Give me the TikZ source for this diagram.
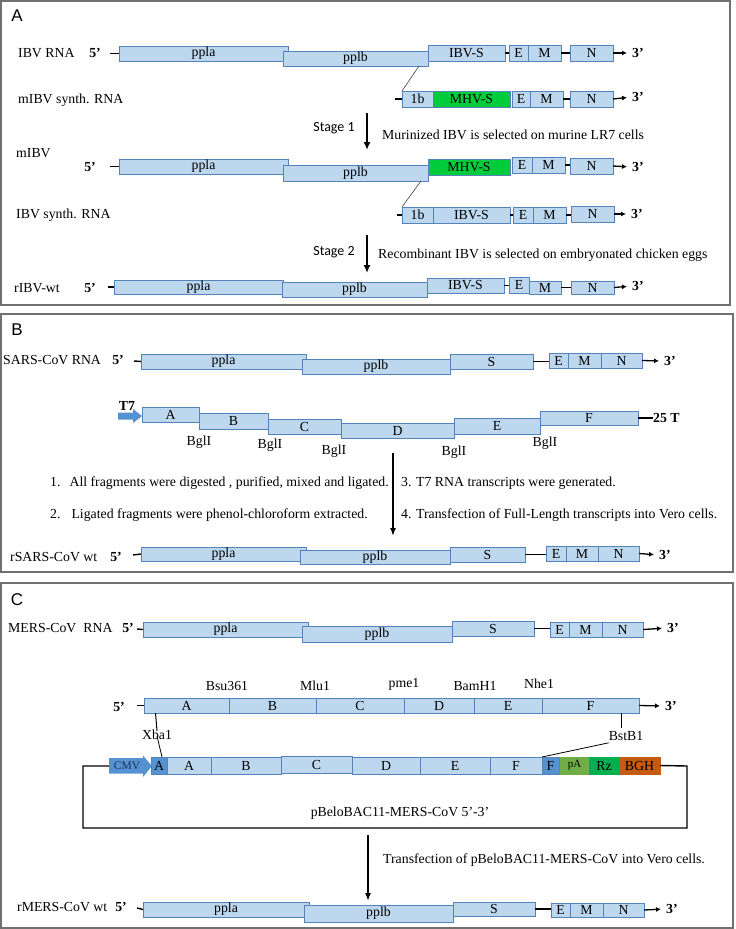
\documentclass[tikz,border=0pt]{standalone}
\usepackage{fontspec}
\setmainfont{Liberation Serif}
\newfontfamily\panelfont{Liberation Sans}
\newfontfamily\stagefont{Carlito}
\usetikzlibrary{arrows.meta,calc}
\definecolor{boxfill}{RGB}{189,215,238}
\definecolor{boxline}{RGB}{84,130,185}
\definecolor{mhv}{RGB}{0,204,60}
\definecolor{midblue}{RGB}{84,146,210}
\definecolor{pagreen}{RGB}{112,173,71}
\definecolor{rzgreen}{RGB}{0,176,80}
\definecolor{bghc}{RGB}{197,90,17}
\definecolor{framec}{RGB}{112,112,112}
\definecolor{navy}{RGB}{30,50,90}
\newcommand\gb[7][]{%
 \pgfmathsetmacro\gbw{#4-#3}\pgfmathsetmacro\gbh{#6-#5}%
 \pgfmathsetmacro\gbx{(#3+#4)/2}\pgfmathsetmacro\gby{(#5+#6)/2}%
 \node[gbox,minimum width=\gbw pt,minimum height=\gbh pt,#1] (#2) at (\gbx,\gby) {#7};}
\tikzset{
 txt/.style={font=\fontsize{13.8}{15}\selectfont},
 gbox/.style={draw=boxline, fill=boxfill, line width=0.8pt, inner sep=0pt, outer sep=0pt, txt},
 lbl/.style={inner sep=0pt, anchor=west, txt},
 endlbl/.style={inner sep=0pt, font=\bfseries\fontsize{13.8}{15}\selectfont},
 seg/.style={line width=1.4pt},
 tip/.style={line width=1.3pt, shorten >=5pt, -{Latex[length=5pt,width=5pt]}},
 bigarrow/.style={line width=1.8pt, -{Latex[length=8pt,width=7pt]}},
 panel/.style={draw=framec, line width=1.3pt},
 plet/.style={font=\panelfont\fontsize{17}{19}\selectfont, inner sep=0pt},
 stg/.style={font=\stagefont\fontsize{14}{16}\selectfont, inner sep=0pt},
 thin/.style={line width=0.6pt, draw=black!75},
}
\begin{document}
\begin{tikzpicture}[x=1pt,y=-1pt]
\useasboundingbox (0,0) rectangle (736,929);
\draw[panel] (1,1) rectangle (730,305);
\draw[panel] (1,314) rectangle (733,572);
\draw[panel] (1,583) rectangle (733,928);
% ================= Panel A
\node[plet] (LA) at (17,16) {A};
% row 1
\node[lbl] (a1l) at (18,53) {IBV RNA};
\node[endlbl] (a1f) at (95,53) {5'};
\coordinate (a1d) at (110,53.5);
\gb{a1pa}{119}{288}{46}{61}{ppla}
\gb{a1pb}{283}{428}{51}{66}{pplb}
\gb{a1s}{428}{505}{45}{61}{IBV-S}
\gb{a1e}{509}{528}{45}{61}{E}
\gb{a1m}{528}{561}{45}{61}{M}
\gb{a1n}{570}{613}{45}{61}{N}
\node[endlbl,anchor=west] (a1t) at (632,53) {3'};
\draw[seg] (a1d) -- (a1pa.west);
\draw[seg] (a1s.east) -- (a1s.east -| a1e.west);
\draw[seg] (a1m.east) -- (a1m.east -| a1n.west);
\draw[tip] (a1n.east) -- (a1t.west);
% row 2
\node[lbl] (a2l) at (18,100) {mIBV synth. RNA};
\coordinate (a2d) at (395,99);
\gb{a2b}{402}{433}{91}{107}{1b}
\gb[fill=mhv]{a2s}{433}{510}{91}{107}{MHV-S}
\gb{a2e}{512}{530}{91}{107}{E}
\gb{a2m}{530}{563}{91}{107}{M}
\gb{a2n}{570}{613}{91}{107}{N}
\node[endlbl,anchor=west] (a2t) at (632,97) {3'};
\draw[seg] (a2d) -- (a2b.west);
\draw[seg] (a2m.east) -- (a2m.east -| a2n.west);
\draw[tip] (a2n.east) -- (a2t.west);
\draw[thin] ([xshift=-9pt]a1pb.south east) -- (a2b.north west);
% stage 1
\coordinate (s1a) at (367,113);
\coordinate (s1b) at (367,150);
\draw[bigarrow] (s1a) -- (s1b);
\node[stg] (s1l) at (334,128) {Stage 1};
\node[lbl] (s1t) at (382,135) {Murinized IBV is selected on murine LR7 cells};
% row 3
\node[lbl] (a3l) at (16,153) {mIBV};
\node[endlbl] (a3f) at (90,167) {5'};
\coordinate (a3d) at (110,166.5);
\gb{a3pa}{119}{288}{159}{174}{ppla}
\gb{a3pb}{283}{428}{165}{181}{pplb}
\gb[fill=mhv]{a3s}{428}{510}{159}{175}{MHV-S}
\gb{a3e}{512}{532}{157}{173}{E}
\gb{a3m}{532}{565}{157}{173}{M}
\gb{a3n}{570}{613}{158}{174}{N}
\node[endlbl,anchor=west] (a3t) at (632,167) {3'};
\draw[seg] (a3d) -- (a3pa.west);
\draw[seg] (a3m.east) -- (a3m.east -| a3n.west);
\draw[tip] (a3n.east) -- (a3t.west);
% row 4
\node[lbl] (a4l) at (16,215) {IBV synth. RNA};
\coordinate (a4d) at (397,215);
\gb{a4b}{402}{433}{207}{223}{1b}
\gb{a4s}{433}{510}{207}{223}{IBV-S}
\gb{a4e}{513}{533}{207}{223}{E}
\gb{a4m}{533}{566}{207}{223}{M}
\gb{a4n}{571}{614}{206}{222}{N}
\node[endlbl,anchor=west] (a4t) at (631,214) {3'};
\draw[seg] (a4d) -- (a4b.west);
\draw[seg] (a4s.east) -- (a4s.east -| a4e.west);
\draw[seg] (a4m.east) -- (a4m.east -| a4n.west);
\draw[tip] (a4n.east) -- (a4t.west);
\draw[thin] ([xshift=-7pt]a3pb.south east) -- (a4b.north west);
% stage 2
\coordinate (s2a) at (367,235);
\coordinate (s2b) at (367,273);
\draw[bigarrow] (s2a) -- (s2b);
\node[stg] (s2l) at (334,252) {Stage 2};
\node[lbl] (s2t) at (378,255) {Recombinant IBV is selected on embryonated chicken eggs};
% row 5
\node[lbl] (a5l) at (14,288) {rIBV-wt};
\node[endlbl] (a5f) at (90,288) {5'};
\coordinate (a5d) at (108,287);
\gb{a5pa}{114}{283}{280}{294}{ppla}
\gb{a5pb}{282}{427}{282}{297}{pplb}
\gb{a5s}{427}{504}{278}{293}{IBV-S}
\gb{a5e}{509}{529}{277}{293}{E}
\gb{a5m}{529}{561}{281}{294}{M}
\gb{a5n}{571}{614}{281}{294}{N}
\node[endlbl,anchor=west] (a5t) at (632,286) {3'};
\draw[seg] (a5d) -- (a5pa.west);
\draw[seg] (a5s.east) -- (a5s.east -| a5e.west);
\draw[seg] (a5m.east) -- (a5m.east -| a5n.west);
\draw[tip] (a5n.east) -- (a5t.west);
% ================= Panel B
\node[plet] (LB) at (17,330) {B};
\node[lbl] (b1l) at (3,360) {SARS-CoV RNA};
\node[endlbl] (b1f) at (118,360) {5'};
\coordinate (b1d) at (134,361);
\gb{b1pa}{141}{306}{354}{369}{ppla}
\gb{b1pb}{302}{450}{359}{374}{pplb}
\gb{b1s}{450}{533}{354}{369}{S}
\gb{b1e}{549}{568}{353}{368}{E}
\gb{b1m}{568}{601}{353}{368}{M}
\gb{b1n}{601}{642}{353}{368}{N}
\node[endlbl,anchor=west] (b1t) at (664,361) {3'};
\draw[seg] (b1d) -- (b1pa.west);
\draw[seg] (b1s.east) -- (b1s.east -| b1e.west);
\draw[tip] (b1n.east) -- (b1t.west);
% fragments
\node[endlbl] (t7l) at (127,406) {T7};
\fill[midblue] (118,412.5) -- (133,412.5) -- (133,409) -- (142,416) -- (133,423) -- (133,419.5) -- (118,419.5) -- cycle;
\gb{bfa}{142}{199}{407}{422}{A}
\gb{bfb}{199}{268}{413}{429}{B}
\gb{bfc}{268}{341}{419}{434}{C}
\gb{bfd}{341}{454}{423}{438}{D}
\gb{bfe}{454}{540}{418}{434}{E}
\gb{bff}{540}{638}{411}{425}{F}
\node[endlbl,anchor=west] (b25) at (653,418) {25 T};
\draw[seg] (bff.east) -- (b25.west);
\node[txt,inner sep=0pt] (bg1) at (199,442) {BglI};
\node[txt,inner sep=0pt] (bg2) at (270,445) {BglI};
\node[txt,inner sep=0pt] (bg3) at (334,451) {BglI};
\node[txt,inner sep=0pt] (bg4) at (454,452) {BglI};
\node[txt,inner sep=0pt] (bg5) at (545,443) {BglI};
\node[lbl] (bt1) at (50,483) {1.\hspace{9pt}All fragments were digested , purified, mixed and ligated.};
\node[lbl] (bt2) at (50,515) {2.\hspace{11pt}Ligated fragments were phenol-chloroform extracted.};
\node[lbl] (bt3) at (401,483) {3. T7 RNA transcripts were generated.};
\node[lbl] (bt4) at (401,515) {4. Transfection of Full-Length transcripts into Vero cells.};
\coordinate (bar1) at (393,453);
\coordinate (bar2) at (393,536);
\draw[line width=1.5pt, -{Latex[length=8pt,width=6pt]}] (bar1) -- (bar2);
% row 3
\node[lbl] (b3l) at (10,557) {rSARS-CoV wt};
\node[endlbl] (b3f) at (116,557) {5'};
\coordinate (b3d) at (133,555);
\gb{b3pa}{141}{306}{547}{561}{ppla}
\gb{b3pb}{300}{450}{550}{564}{pplb}
\gb{b3s}{450}{525}{547}{562}{S}
\gb{b3e}{546}{566}{546}{561}{E}
\gb{b3m}{566}{598}{546}{561}{M}
\gb{b3n}{598}{639}{546}{561}{N}
\node[endlbl,anchor=west] (b3t) at (659,555) {3'};
\draw[seg] (b3d) -- (b3pa.west);
\draw[seg] (b3s.east) -- (b3s.east -| b3e.west);
\draw[tip] (b3n.east) -- (b3t.west);
% ================= Panel C
\node[plet] (LC) at (17,600) {C};
\node[lbl] (c1l) at (8,628) {MERS-CoV\ \ RNA};
\node[endlbl] (c1f) at (128,628) {5'};
\coordinate (c1d) at (137,629);
\gb{c1pa}{143}{308}{622}{637}{ppla}
\gb{c1pb}{302}{452}{626}{642}{pplb}
\gb{c1s}{452}{534}{621}{636}{S}
\gb{c1e}{550}{569}{622}{637}{E}
\gb{c1m}{569}{602}{622}{637}{M}
\gb{c1n}{602}{643}{622}{637}{N}
\node[endlbl,anchor=west] (c1t) at (667,628) {3'};
\draw[seg] (c1d) -- (c1pa.west);
\draw[seg] (c1s.east) -- (c1s.east -| c1e.west);
\draw[tip] (c1n.east) -- (c1t.west);
% fragments
\node[endlbl] (c2f) at (119,707) {5'};
\coordinate (c2d) at (137,705.5);
\gb{cfa}{144}{229}{698}{713}{A}
\gb{cfb}{229}{316}{698}{713}{B}
\gb{cfc}{316}{404}{698}{713}{C}
\gb{cfd}{404}{474}{698}{713}{D}
\gb{cfe}{474}{542}{698}{713}{E}
\gb{cff}{542}{639}{698}{713}{F}
\node[endlbl,anchor=west] (c2t) at (665,706) {3'};
\draw[seg] (c2d) -- (cfa.west);
\draw[tip] (cff.east) -- (c2t.west);
\node[txt,inner sep=0pt] (rs1) at (227,686) {Bsu361};
\node[txt,inner sep=0pt] (rs2) at (315,686) {Mlu1};
\node[txt,inner sep=0pt] (rs3) at (404,684) {pme1};
\node[txt,inner sep=0pt] (rs4) at (475,686) {BamH1};
\node[txt,inner sep=0pt] (rs5) at (539,684) {Nhe1};
% plasmid row
\fill[midblue] (109,758) -- (143,758) -- (143,755.5) -- (152,766) -- (143,777) -- (143,773.5) -- (109,773.5) -- cycle;
\coordinate (cmvtail) at (109,766);
\node[inner sep=0pt, text=navy, font=\fontsize{11.5}{13}\selectfont] (cmvl) at (127,766) {CMV};
\gb[fill=midblue]{pAd}{151}{167}{757}{774}{A}
\gb{pAl}{167}{211}{757}{774}{A}
\gb{pB}{211}{281}{757}{774}{B}
\gb{pC}{281}{352}{756}{773}{C}
\gb{pD}{352}{420}{757}{774}{D}
\gb{pE}{420}{490}{757}{774}{E}
\gb{pF}{490}{542}{757}{774}{F}
\gb[fill=midblue]{pFd}{542}{559}{757}{774}{F}
\gb[fill=pagreen,draw=pagreen,font=\fontsize{11}{13}\selectfont]{ppA}{560}{589}{757}{774}{pA}
\gb[fill=rzgreen,draw=rzgreen]{pRz}{589}{619}{757}{774}{Rz}
\gb[fill=bghc,draw=bghc]{pBGH}{619}{660}{757}{774}{BGH}
\draw[seg] (pBGH.east) -- (687,766) -- (687,828) -- (83,828) -- (83,766) -- (cmvtail);
\node[txt,inner sep=0pt] (plab) at (400,813) {pBeloBAC11-MERS-CoV 5'-3'};
% Xba1 / BstB1
\node[txt,inner sep=0pt] (xba) at (157,735) {Xba1};
\draw[line width=1pt] ([xshift=-1.5pt]cfa.south west -| xba.north) -- ([yshift=-1pt]xba.north);
\draw[line width=0.8pt] ([yshift=-1pt]xba.center) -- ([xshift=3pt]pAd.north);
\node[txt,inner sep=0pt] (bst) at (626,736) {BstB1};
\coordinate (bsttop) at (621,713);
\draw[line width=1pt] (bsttop) -- (621,728);
\draw[line width=0.8pt] ([yshift=-2pt]bst.south west) -- (pF.north east);
% arrow to rMERS
\coordinate (car1) at (368,835);
\coordinate (car2) at (368,901);
\draw[line width=1.6pt, -{Latex[length=8pt,width=6pt]}] (car1) -- (car2);
\node[lbl] (ct) at (383,860) {Transfection of pBeloBAC11-MERS-CoV into Vero cells.};
% row 4
\node[lbl] (c4l) at (17,907) {rMERS-CoV wt};
\node[endlbl] (c4f) at (121,907) {5'};
\coordinate (c4d) at (137,908);
\gb{c4pa}{143}{309}{902}{917}{ppla}
\gb{c4pb}{304}{453}{905}{922}{pplb}
\gb{c4s}{453}{535}{902}{916}{S}
\gb{c4e}{551}{570}{903}{917}{E}
\gb{c4m}{570}{603}{903}{917}{M}
\gb{c4n}{603}{644}{903}{917}{N}
\node[endlbl,anchor=west] (c4t) at (666,909) {3'};
\draw[seg] (c4d) -- (c4pa.west);
\draw[seg] (c4s.east) -- (c4s.east -| c4e.west);
\draw[tip] (c4n.east) -- (c4t.west);
\end{tikzpicture}
\end{document}
